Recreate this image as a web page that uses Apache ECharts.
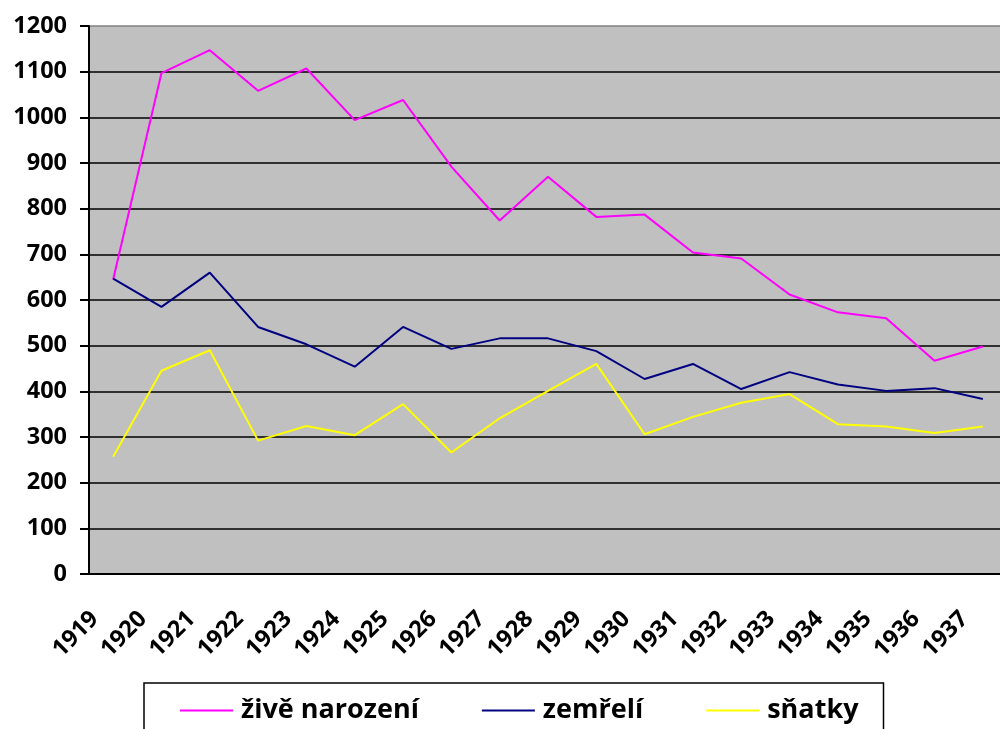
<!DOCTYPE html>
<html>
<head>
<meta charset="utf-8">
<script src="https://cdn.jsdelivr.net/npm/echarts@6/dist/echarts.min.js"></script>
<style>
  html, body { margin: 0; padding: 0; background: #fff; }
  #chart { width: 1000px; height: 729px; }
</style>
</head>
<body>
<div id="chart"></div>
<script>
// roky
var years = ['1919','1920','1921','1922','1923','1924','1925','1926','1927','1928',
             '1929','1930','1931','1932','1933','1934','1935','1936','1937']
// živě narození
var births = [645,1097,1147,1058,1107,994,1038,892,774,870,782,787,704,691,612,573,560,467,498]
// zemřelí
var deaths = [647,585,660,541,503,454,541,493,516,516,488,427,460,405,442,415,401,407,383]
// sňatky
var marriages = [257,445,490,292,324,304,372,266,341,401,460,306,344,375,394,328,323,309,323]

var seriesNames = ['živě narození', 'zemřelí', 'sňatky']
var seriesColors = ['#FF00FF', '#000080', '#FFFF00']
var seriesData = [births, deaths, marriages]

var font = '"Open Sans", "DejaVu Sans", sans-serif'

// mřížka: poslední čára (1200) je šedý okraj grafu
var gridColors = []
for (var i = 0; i < 12; i++) gridColors.push('#000')
gridColors.push('#808080')

var chart = echarts.init(document.getElementById('chart'), null, { renderer: 'canvas' })

var series = seriesData.map(function (d, i) {
  return {
    name: seriesNames[i],
    type: 'line',
    data: d,
    symbol: 'none',
    color: seriesColors[i],
    lineStyle: { width: 2, color: seriesColors[i] },
    animation: false
  }
})

chart.setOption({
  animation: false,
  grid: {
    left: 89,
    top: 26,
    width: 918,
    bottom: 155,
    outerBoundsMode: 'none',
    containLabel: false,
    show: true,
    backgroundColor: '#C0C0C0',
    borderWidth: 0
  },
  legend: {
    left: 144,
    top: 683,
    orient: 'horizontal',
    backgroundColor: '#fff',
    borderColor: '#000',
    borderWidth: 1.5,
    borderRadius: 0,
    padding: [14, 25, 30, 36],
    icon: 'rect',
    itemWidth: 53,
    itemHeight: 2,
    itemGap: 63,
    textStyle: {
      fontFamily: font,
      fontWeight: 'bold',
      fontSize: 27,
      color: '#000',
      padding: [0, 0, 0, 3]
    },
    data: seriesNames
  },
  xAxis: {
    type: 'category',
    data: years,
    boundaryGap: true,
    axisLine: { lineStyle: { color: '#000', width: 2 } },
    axisTick: { length: 8, lineStyle: { color: '#000', width: 2 } },
    axisLabel: {
      interval: 0,
      rotate: 45,
      margin: 23,
      padding: [0, 26, 0, 0],
      fontFamily: font,
      fontWeight: 'bold',
      fontSize: 23.5,
      color: '#000'
    },
    splitLine: { show: false }
  },
  yAxis: {
    type: 'value',
    min: 0,
    max: 1200,
    interval: 100,
    axisLine: { show: true, lineStyle: { color: '#000', width: 2 } },
    axisTick: { show: true, length: 9, lineStyle: { color: '#000', width: 2 } },
    axisLabel: {
      margin: 22,
      formatter: function (v) { return String(v) },
      fontFamily: font,
      fontWeight: 'bold',
      fontSize: 23.5,
      color: '#000'
    },
    splitLine: { show: true, lineStyle: { color: gridColors, width: 1.5 } }
  },
  series: series
})
</script>
</body>
</html>
